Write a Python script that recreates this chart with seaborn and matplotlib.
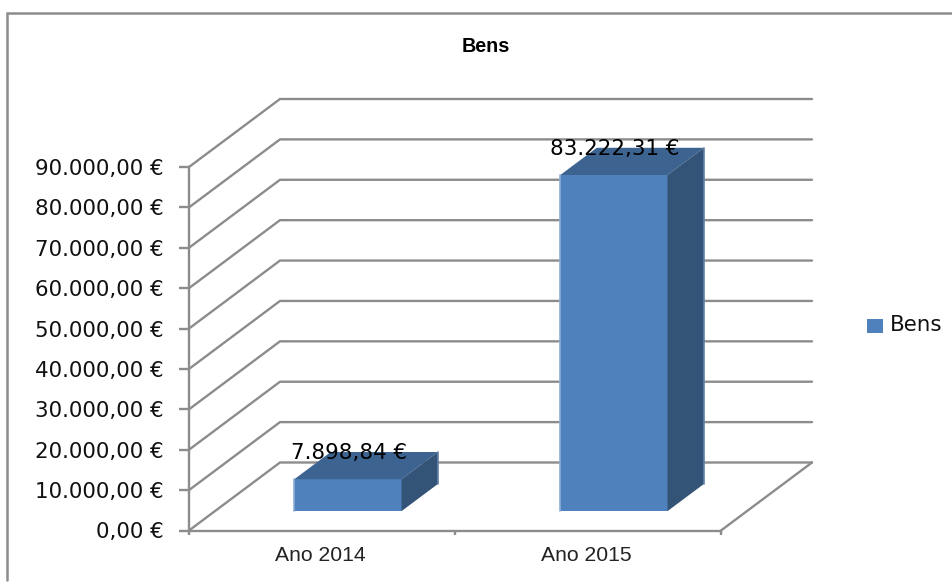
import numpy as np
import pandas as pd
import matplotlib.pyplot as plt
import seaborn as sns
from matplotlib.lines import Line2D
from matplotlib.patches import Polygon, Rectangle

# dados do grafico
anos = ['Ano 2014', 'Ano 2015']
bens = [7898.84, 83222.31]
rotulos = ['7.898,84 €', '83.222,31 €']
valores_eixo = [0, 10000, 20000, 30000, 40000, 50000, 60000, 70000, 80000, 90000]
rotulos_eixo = ['0,00 €', '10.000,00 €', '20.000,00 €', '30.000,00 €', '40.000,00 €',
                '50.000,00 €', '60.000,00 €', '70.000,00 €', '80.000,00 €', '90.000,00 €']

W, H = 953, 583
sns.set_theme(style='white')
plt.rcParams['font.family'] = ['DejaVu Sans']

fig = plt.figure(figsize=(W / 100, H / 100), dpi=100, facecolor='white')
# plano da frente do grafico em pixels
esq, dir_, base, topo = 189, 721, 530.5, 167
ax = fig.add_axes([esq / W, 1 - base / H, (dir_ - esq) / W, (base - topo) / H])

df = pd.DataFrame({'ano': anos, 'bens': bens})
sns.barplot(data=df, x='ano', y='bens', color='#4F81BD', saturation=1, width=0.403, ax=ax)
ax.set_xlim(-0.5, 1.5)
ax.set_ylim(0, 90000)
ax.set_xlabel('')
ax.set_ylabel('')

# profundidade em unidades dos eixos (91 px para a direita, 68 px para cima)
DX = 91 / ((dir_ - esq) / 2)
DY = 68 / ((base - topo) / 90000)


def proj(x, y, d):
    return x + d * DX, y + d * DY


# paredes
cor_linha = '#8C8C8C'
for v in valores_eixo:
    xs, ys = zip(proj(-0.5, v, 0), proj(-0.5, v, 1), proj(1.5, v, 1))
    ax.plot(xs, ys, color=cor_linha, lw=1.7, clip_on=False, zorder=1, solid_joinstyle='miter')
xs, ys = zip(proj(1.5, 0, 0), proj(1.5, 0, 1))
ax.plot(xs, ys, color=cor_linha, lw=1.7, clip_on=False, zorder=1)

# barras em 3D a partir das barras do seaborn
d0, d1 = 0.285, 0.685
for barra in ax.patches[:]:
    x0, x1 = barra.get_x(), barra.get_x() + barra.get_width()
    v = barra.get_height()
    barra.set_x(x0 + d0 * DX)
    barra.set_y(d0 * DY)
    barra.set_clip_on(False)
    barra.set_zorder(3)
    barra.set_linewidth(0)
    # face de cima
    ax.add_patch(Polygon([proj(x0, v, d0), proj(x1, v, d0), proj(x1, v, d1), proj(x0, v, d1)],
                         facecolor='#3D6391', edgecolor='none', clip_on=False, zorder=3))
    # face lateral
    ax.add_patch(Polygon([proj(x1, 0, d0), proj(x1, v, d0), proj(x1, v, d1), proj(x1, 0, d1)],
                         facecolor='#335377', edgecolor='none', clip_on=False, zorder=3))
    # brilho nas arestas
    xs, ys = zip(proj(x0, 0, d0), proj(x0, v, d0))
    ax.plot(xs, ys, color='#8DADD6', lw=1.2, clip_on=False, zorder=4)
    xs, ys = zip(proj(x1, 0, d1), proj(x1, v, d1))
    ax.plot(xs, ys, color='#6080A8', lw=1.2, clip_on=False, zorder=4)

# rotulos de dados
for i, (v, r) in enumerate(zip(bens, rotulos)):
    x, y = proj(i, v, 0.5)
    ax.annotate(r, (x, y), xytext=(-13.5, 8), textcoords='offset points', ha='center', va='center',
                fontsize=15.4, color='black', zorder=6, annotation_clip=False)

# eixos
for s in ['top', 'right']:
    ax.spines[s].set_visible(False)
for s in ['left', 'bottom']:
    ax.spines[s].set_color(cor_linha)
    ax.spines[s].set_linewidth(1.7)
ax.set_yticks(valores_eixo)
ax.set_yticklabels(rotulos_eixo, fontsize=15.4, color='#111111')
ax.set_xticks([-0.5, 0.5, 1.5], minor=False)
ax.set_xticklabels(['', '', ''])
ax.tick_params(axis='y', length=7, width=1.7, color=cor_linha, pad=11.5, left=True)
ax.tick_params(axis='x', length=3, width=1.7, color=cor_linha, bottom=True, direction='out')
for i, a in enumerate(anos):
    ax.annotate(a, (i, 0), xytext=(-1.5, -18), textcoords='offset points', ha='center', va='center',
                fontsize=15.2, family=['Liberation Sans'], color='#222222', annotation_clip=False)

# titulo
fig.text(486 / W, 1 - 46 / H, 'Bens', ha='center', va='center', fontsize=14.2,
         family=['Liberation Sans'], fontweight='bold', color='black')

# legenda
fig.patches.append(Rectangle((867 / W, 1 - 333 / H), 16 / W, 14 / H, transform=fig.transFigure,
                             facecolor='#4F81BD', edgecolor='none'))
fig.text(890 / W, 1 - 325 / H, 'Bens', ha='left', va='center', fontsize=15.4, color='#111111')

# moldura: so o lado de cima e o da esquerda aparecem
fig.add_artist(Line2D([W / W, 7 / W, 7 / W], [1 - 13 / H, 1 - 13 / H, 1 - 580 / H],
                      color=cor_linha, lw=1.8, solid_joinstyle='miter'))

fig.savefig('out.png', dpi=100)
